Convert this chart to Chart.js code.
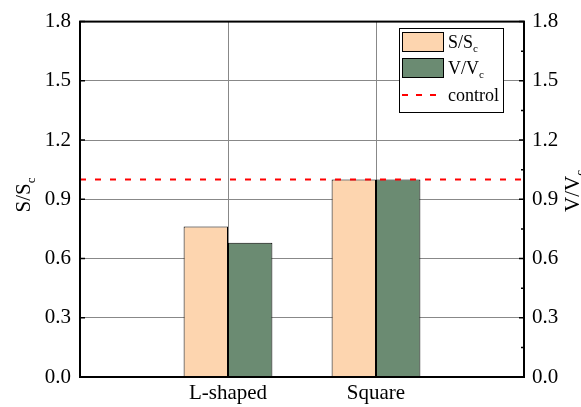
<!DOCTYPE html>
<html>
<head>
<meta charset="utf-8">
<script src="https://cdn.jsdelivr.net/npm/chart.js@4.4.1/dist/chart.umd.min.js"></script>
<style>
  html, body { margin: 0; padding: 0; background: #fff; }
  #wrap { width: 581px; height: 407px; }
</style>
</head>
<body>
<div id="wrap"><canvas id="chart" width="581" height="407"></canvas></div>
<script>
// categories (blank slots at both ends keep the groups at 1/3 and 2/3 of the width)
const categories = ['', 'L-shaped', 'Square', ''];
const sRatio = [null, 0.762, 1.0, null];
const vRatio = [null, 0.68, 1.0, null];
const controlLine = [1.0, 1.0, 1.0, 1.0];
const yTicks = [0, 0.3, 0.6, 0.9, 1.2, 1.5, 1.8];

const FONT = '"Liberation Serif", "Times New Roman", serif';
const PEACH = '#FDD5AF';
const GREEN = '#6B8B72';

function subText(ctx, main, sub, x, y, size) {
  ctx.font = size + 'px ' + FONT;
  const w1 = ctx.measureText(main).width;
  ctx.font = Math.round(size * 0.62) + 'px ' + FONT;
  const w2 = ctx.measureText(sub).width;
  return {w1, w2, draw(sx) {
    ctx.font = size + 'px ' + FONT;
    ctx.fillText(main, sx, y);
    ctx.font = Math.round(size * 0.62) + 'px ' + FONT;
    ctx.fillText(sub, sx + w1, y + size * 0.22);
  }};
}

function rotTitle(ctx, main, sub, x, yc, size) {
  ctx.save();
  ctx.translate(x, yc);
  ctx.rotate(-Math.PI / 2);
  ctx.fillStyle = '#000';
  ctx.textBaseline = 'alphabetic';
  ctx.textAlign = 'left';
  const t = subText(ctx, main, sub, 0, 0, size);
  t.draw(-(t.w1 + t.w2) / 2);
  ctx.restore();
}

const decor = {
  id: 'decor',
  afterDraw(chart) {
    const ctx = chart.ctx, a = chart.chartArea;
    const y = chart.scales.y, x = chart.scales.x;
    ctx.save();
    ctx.strokeStyle = '#000';
    // frame
    ctx.lineWidth = 2;
    ctx.strokeRect(a.left, a.top, a.right - a.left, a.bottom - a.top);
    // inward ticks
    ctx.lineWidth = 1.5;
    ctx.beginPath();
    yTicks.forEach(v => {
      const py = y.getPixelForValue(v);
      ctx.moveTo(a.left, py); ctx.lineTo(a.left + 5, py);
      ctx.moveTo(a.right, py); ctx.lineTo(a.right - 5, py);
      if (v < 1.8) {
        const pm = y.getPixelForValue(v + 0.15);
        ctx.moveTo(a.right, pm); ctx.lineTo(a.right - 3, pm);
      }
    });
    [1, 2].forEach(i => {
      const px = x.getPixelForValue(i);
      ctx.moveTo(px, a.bottom); ctx.lineTo(px, a.bottom - 4);
    });
    ctx.stroke();

    // axis titles
    rotTitle(ctx, 'S/S', 'c', 30, 195, 21);
    rotTitle(ctx, 'V/V', 'c', 579, 191, 21);

    // legend
    const lx = 399, ly = 28, lw = 104, lh = 84;
    ctx.fillStyle = '#fff';
    ctx.fillRect(lx, ly, lw, lh);
    ctx.lineWidth = 1;
    ctx.strokeStyle = '#000';
    ctx.strokeRect(lx + 0.5, ly + 0.5, lw, lh);
    ctx.fillStyle = PEACH;
    ctx.fillRect(402.5, 32.5, 41, 19);
    ctx.strokeRect(402.5, 32.5, 41, 19);
    ctx.fillStyle = GREEN;
    ctx.fillRect(402.5, 58.5, 41, 19);
    ctx.strokeRect(402.5, 58.5, 41, 19);
    ctx.strokeStyle = '#FF0000';
    ctx.lineWidth = 2;
    ctx.setLineDash([6, 8]);
    ctx.beginPath();
    ctx.moveTo(402, 95); ctx.lineTo(443, 95);
    ctx.stroke();
    ctx.setLineDash([]);
    ctx.fillStyle = '#000';
    ctx.textBaseline = 'alphabetic';
    ctx.textAlign = 'left';
    subText(ctx, 'S/S', 'c', 0, 48, 18).draw(448);
    subText(ctx, 'V/V', 'c', 0, 74, 18).draw(448);
    ctx.font = '18px ' + FONT;
    ctx.fillText('control', 448, 101);
    ctx.restore();
  }
};

function draw() {
  new Chart(document.getElementById('chart'), {
    data: {
      labels: categories,
      datasets: [
        { type: 'line', label: 'control', data: controlLine, borderColor: '#FF0000',
          borderWidth: 2, borderDash: [6, 9], pointRadius: 0, order: 0, yAxisID: 'y' },
        { type: 'bar', label: 'S/Sc', data: sRatio, backgroundColor: PEACH,
          borderColor: '#000', borderWidth: 1, order: 1, yAxisID: 'y' },
        { type: 'bar', label: 'V/Vc', data: vRatio, backgroundColor: GREEN,
          borderColor: '#000', borderWidth: 1, order: 1, yAxisID: 'y' }
      ]
    },
    options: {
      responsive: false,
      animation: false,
      layout: { padding: { top: 17, left: 0, right: 0, bottom: 0 } },
      datasets: { bar: { categoryPercentage: 0.6, barPercentage: 1.0 } },
      plugins: { legend: { display: false }, tooltip: { enabled: false } },
      scales: {
        x: {
          offset: false,
          grid: { color: '#888', lineWidth: 1, drawTicks: false, offset: false },
          border: { display: false },
          ticks: { color: '#000', font: { family: FONT, size: 21 }, padding: 4, maxRotation: 0, autoSkip: false },
          afterFit: s => { s.height = 30; }
        },
        y: {
          position: 'left', min: 0, max: 1.8,
          afterBuildTicks: s => { s.ticks = yTicks.map(v => ({ value: v })); },
          grid: { color: '#888', lineWidth: 1, drawTicks: false },
          border: { display: false },
          ticks: { color: '#000', font: { family: FONT, size: 21 }, padding: 9,
            callback: v => v.toFixed(1) },
          afterFit: s => { s.width = 80; }
        },
        y2: {
          position: 'right', min: 0, max: 1.8,
          afterBuildTicks: s => { s.ticks = yTicks.map(v => ({ value: v })); },
          grid: { display: false, drawTicks: false },
          border: { display: false },
          ticks: { color: '#000', font: { family: FONT, size: 21 }, padding: 8,
            callback: v => v.toFixed(1) },
          afterFit: s => { s.width = 57; }
        }
      }
    },
    plugins: [decor]
  });
}

Promise.all([
  document.fonts.load('21px "Liberation Serif"'),
  document.fonts.load('13px "Liberation Serif"')
]).then(draw, draw);
</script>
</body>
</html>
